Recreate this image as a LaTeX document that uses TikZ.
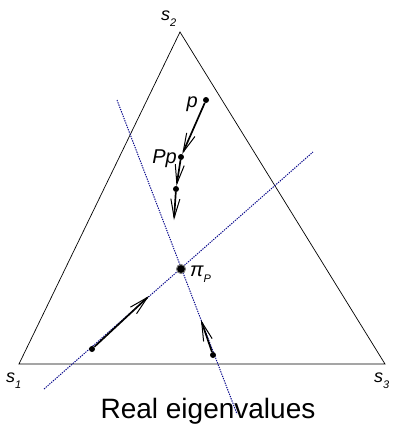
\documentclass[tikz,border=0pt]{standalone}
\usepackage{fontspec}
\setmainfont{Liberation Sans}
\usepackage{tikz}
\usetikzlibrary{positioning, arrows.meta}

\definecolor{lineblue}{RGB}{10,10,140}
\newcommand{\lowidx}[1]{\raisebox{-6pt}{\fontsize{11}{11}\selectfont #1}}

\begin{document}
\begin{tikzpicture}[x=1pt, y=-1pt, >={Straight Barb[length=19pt, width=9pt, line width=1pt]},
        dot/.style={circle, fill=black, inner sep=0pt, minimum size=6pt},
        lbl/.style={inner sep=0pt, font=\fontsize{20}{20}\selectfont\itshape},
        slbl/.style={inner sep=0pt, font=\fontsize{18}{18}\selectfont\itshape},
        move/.style={->, line width=1.7pt},
        proj/.style={lineblue, dash pattern=on 1.3pt off 1.1pt, line width=1pt}]
        \useasboundingbox (0,0) rectangle (393,424);
        % simplex
        \coordinate (s1) at (19,364);
        \coordinate (s2) at (180,32);
        \coordinate (s3) at (385,364);
        \draw[line width=0.7pt] (s1) -- (s2) -- (s3) -- cycle;
        \node[slbl, anchor=base west] (l1) at (6,382) {s\lowidx{1}};
        \node[slbl, anchor=base west] (l2) at (161,20) {s\lowidx{2}};
        \node[slbl, anchor=base west] (l3) at (374,382) {s\lowidx{3}};
        % eigen directions
        \coordinate (ua) at (117,100);
        \coordinate (ub) at (237,414);
        \coordinate (va) at (44,389);
        \coordinate (vb) at (313,152);
        \draw[proj] (ua) -- (ub);
        \draw[proj] (va) -- (vb);
        % fixed point
        \node[dot, minimum size=9pt, draw=gray, line width=1pt] (pi) at (181,269) {};
        \node[lbl, anchor=base west] (lpi) at (190,276) {π\lowidx{P}};
        % iterates
        \node[dot] (p) at (206,100) {};
        \node[dot] (Pp) at (181,157) {};
        \node[dot] (PPp) at (176,189) {};
        \coordinate (t1) at (174,220);
        \node[lbl, anchor=base east] (lp) at (198,107) {p};
        \node[lbl, anchor=base east] (lPp) at (177,163) {Pp};
        \draw[move] (p) -- (Pp);
        \draw[move] (Pp) -- (PPp);
        \draw[move] (PPp) -- (t1);
        \node[dot] (a) at (92,349) {};
        \coordinate (ta) at (149,296);
        \draw[move] (a) -- (ta);
        \node[dot] (b) at (213,355) {};
        \coordinate (tb) at (201,320);
        \draw[move] (b) -- (tb);
        % caption
        \node[inner sep=0pt, anchor=base, font=\fontsize{28}{28}\selectfont] (cap) at (208,418) {Real eigenvalues};
    \end{tikzpicture}
\end{document}
